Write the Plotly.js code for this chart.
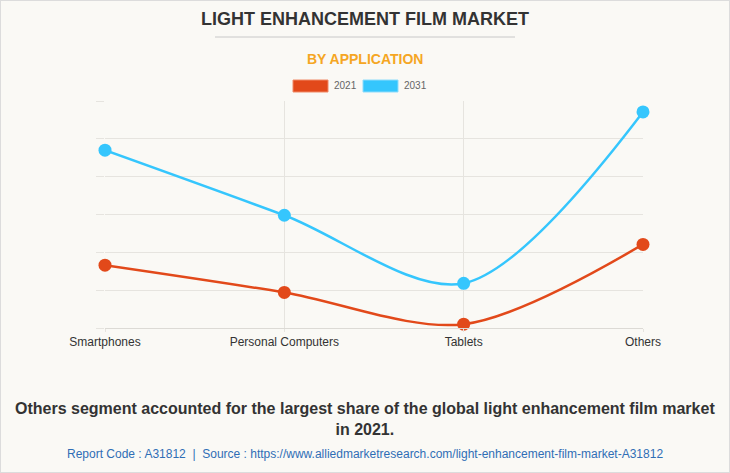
<!DOCTYPE html>
<html>
<head>
<meta charset="utf-8">
<script src="https://cdn.plot.ly/plotly-3.0.1.min.js"></script>
<style>
  html, body { margin: 0; padding: 0; background: #faf9f5; }
  #wrap { position: relative; width: 730px; height: 473px; }
  #chart { width: 730px; height: 473px; }
  #frame { position: absolute; left: 0; top: 0; width: 730px; height: 473px; box-sizing: border-box; border: 1px solid #dcdcdc; pointer-events: none; }
</style>
</head>
<body>
<div id="wrap"><div id="chart"></div><div id="frame"></div></div>
<script>
const categories = ["Smartphones", "Personal Computers", "Tablets", "Others"];
const seriesNames = ["2021", "2031"];
const values2021 = [1.66, 0.94, 0.10, 2.21];
const values2031 = [4.70, 2.98, 1.18, 5.71];
const colors = ["#e2491a", "#35c6fd"];

const mk = (name, ys, color) => ({
  type: "scatter", mode: "lines+markers", name: name,
  x: categories, y: ys, cliponaxis: false,
  line: { color: color, width: 2.5, shape: "spline", smoothing: 0.9 },
  marker: { color: color, size: 13 },
  hoverinfo: "x+y"
});

const data = [mk(seriesNames[0], values2021, colors[0]), mk(seriesNames[1], values2031, colors[1])];

const font = "Arial, 'Liberation Sans', sans-serif";
const layout = {
  width: 730, height: 473,
  paper_bgcolor: "#faf9f5", plot_bgcolor: "#faf9f5",
  margin: { l: 105, r: 87, t: 101, b: 145 },
  showlegend: false,
  font: { family: font },
  xaxis: {
    type: "category", range: [0, 3],
    showgrid: true, gridcolor: "#e6e4df", gridwidth: 1,
    showline: true, linecolor: "#dcdad5",
    ticks: "outside", ticklen: 3, tickcolor: "#e6e4df", ticklabelstandoff: 0,
    tickfont: { size: 12, color: "#333333", family: font },
    zeroline: false, fixedrange: true
  },
  yaxis: {
    range: [0, 6], dtick: 1, tick0: 0,
    showgrid: true, gridcolor: "#e6e4df", gridwidth: 1,
    showticklabels: false, ticks: "outside", ticklen: 8, tickcolor: "#e6e4df",
    zeroline: false, showline: false, fixedrange: true
  },
  shapes: [
    { type: "line", xref: "paper", yref: "paper", x0: (215-105)/538, x1: (515-105)/538, y0: (473-145-37)/227, y1: (473-145-37)/227, line: { color: "#c8c8c8", width: 1 } },
    { type: "rect", xref: "paper", yref: "paper", x0: (293-105)/538, x1: (328-105)/538, y0: (473-145-92)/227, y1: (473-145-80)/227, fillcolor: colors[0], line: { color: "#f08a66", width: 1 } },
    { type: "rect", xref: "paper", yref: "paper", x0: (363-105)/538, x1: (398-105)/538, y0: (473-145-92)/227, y1: (473-145-80)/227, fillcolor: colors[1], line: { color: "#8fdcfb", width: 1 } }
  ],
  annotations: [
    { text: "<b>LIGHT ENHANCEMENT FILM MARKET</b>", xref: "paper", yref: "paper", x: (365-105)/538, y: (473-145-19)/227, xanchor: "center", yanchor: "middle", showarrow: false, font: { size: 18, color: "#333333", family: font } },
    { text: "<b>BY APPLICATION</b>", xref: "paper", yref: "paper", x: (365-105)/538, y: (473-145-59)/227, xanchor: "center", yanchor: "middle", showarrow: false, font: { size: 14, color: "#f5a623", family: font } },
    { text: seriesNames[0], xref: "paper", yref: "paper", x: (332-105)/538, y: (473-145-86)/227, xanchor: "left", yanchor: "middle", showarrow: false, font: { size: 10, color: "#666666", family: font } },
    { text: seriesNames[1], xref: "paper", yref: "paper", x: (402-105)/538, y: (473-145-86)/227, xanchor: "left", yanchor: "middle", showarrow: false, font: { size: 10, color: "#666666", family: font } },
    { text: "<b>Others segment accounted for the largest share of the global light enhancement film market<br>in 2021.</b>", xref: "paper", yref: "paper", x: (365-105)/538, y: (473-145-419)/227, xanchor: "center", yanchor: "middle", showarrow: false, align: "center", font: { size: 16, color: "#333333", family: font } },
    { text: "Report Code : A31812  |  Source : https://www.alliedmarketresearch.com/light-enhancement-film-market-A31812", xref: "paper", yref: "paper", x: (365-105)/538, y: (473-145-454)/227, xanchor: "center", yanchor: "middle", showarrow: false, font: { size: 12, color: "#2f6eb5", family: font } }
  ]
};

Plotly.newPlot("chart", data, layout, { displayModeBar: false, staticPlot: true });
</script>
</body>
</html>
